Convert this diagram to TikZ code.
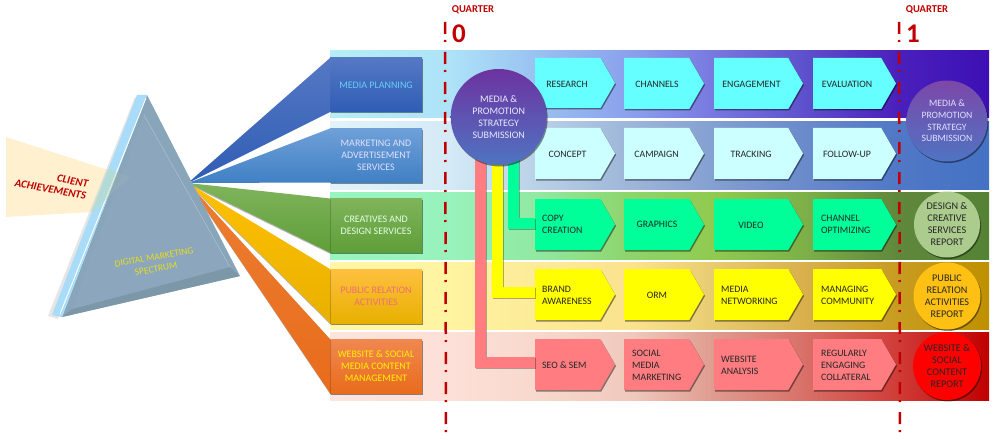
\documentclass[tikz,border=0pt]{standalone}
\usepackage{fontspec}
\setmainfont{Carlito}
\usetikzlibrary{shapes.symbols,shadows,shadings}
\definecolor{qred}{HTML}{C00000}
\definecolor{aa}{HTML}{B5EEF6}\definecolor{ab}{HTML}{AEE3F8}\definecolor{ac}{HTML}{98C0F0}\definecolor{ad}{HTML}{8A9FEC}\definecolor{ae}{HTML}{7878E0}\definecolor{af}{HTML}{5E50CC}\definecolor{ag}{HTML}{4A20BC}\definecolor{ah}{HTML}{3C10B4}
\definecolor{ba}{HTML}{E2F4F9}\definecolor{bb}{HTML}{D4EAF6}\definecolor{bc}{HTML}{B8D0E6}\definecolor{bd}{HTML}{9CB5D8}\definecolor{be}{HTML}{84A0D2}\definecolor{bf}{HTML}{6A8ACB}\definecolor{bg}{HTML}{5078C6}\definecolor{bh}{HTML}{4472C4}
\definecolor{ca}{HTML}{98F5C0}\definecolor{cb}{HTML}{98F2BC}\definecolor{cc}{HTML}{90E8A0}\definecolor{cd}{HTML}{8DD46A}\definecolor{ce}{HTML}{90CB50}\definecolor{cf}{HTML}{7CB048}\definecolor{cg}{HTML}{60883C}\definecolor{ch}{HTML}{548235}
\definecolor{da}{HTML}{FFF6A8}\definecolor{db}{HTML}{FFF4A0}\definecolor{dc}{HTML}{FCEA98}\definecolor{dd}{HTML}{FBE28E}\definecolor{de}{HTML}{E8CC70}\definecolor{df}{HTML}{D8B04C}\definecolor{dg}{HTML}{C89C20}\definecolor{dh}{HTML}{BF9000}
\definecolor{ea}{HTML}{FDE4DE}\definecolor{eb}{HTML}{FDE0D8}\definecolor{ec}{HTML}{F8D8CC}\definecolor{ed}{HTML}{F0C8BC}\definecolor{ee}{HTML}{E09C90}\definecolor{ef}{HTML}{D87068}\definecolor{eg}{HTML}{D03C38}\definecolor{eh}{HTML}{C00000}
\newcommand{\bandshade}[2]{\pgfdeclarehorizontalshading{#1}{100bp}{color(0bp)=(#2a); color(25bp)=(#2a); color(34bp)=(#2b); color(41bp)=(#2c); color(48bp)=(#2d); color(54bp)=(#2e); color(61bp)=(#2f); color(68bp)=(#2g); color(75bp)=(#2h); color(100bp)=(#2h)}}
\bandshade{bandA}{a}\bandshade{bandB}{b}\bandshade{bandC}{c}\bandshade{bandD}{d}\bandshade{bandE}{e}
\definecolor{pcyan}{HTML}{66FFFF}\definecolor{pice}{HTML}{CCFFFF}\definecolor{pgreen}{HTML}{00FF99}\definecolor{pyellow}{HTML}{FFFF00}\definecolor{ppink}{HTML}{FF7C80}
\definecolor{beam}{HTML}{FFF0D0}
\definecolor{bAt}{HTML}{5578C4}\definecolor{bAm}{HTML}{3F6BBE}\definecolor{bAb}{HTML}{2F5DB4}
\definecolor{bBt}{HTML}{6FA0D8}\definecolor{bBm}{HTML}{5291D2}\definecolor{bBb}{HTML}{4080C4}
\definecolor{bCt}{HTML}{80B45C}\definecolor{bCm}{HTML}{70AD47}\definecolor{bCb}{HTML}{5E9E38}
\definecolor{bDt}{HTML}{FFC040}\definecolor{bDm}{HTML}{FFC000}\definecolor{bDb}{HTML}{E8B000}
\definecolor{bEt}{HTML}{F08850}\definecolor{bEm}{HTML}{ED7D31}\definecolor{bEb}{HTML}{E86C1C}
\definecolor{prismL}{HTML}{A8DCF8}\definecolor{prismF}{HTML}{8CA6BE}\definecolor{prismR}{HTML}{89A5BA}\definecolor{prismB}{HTML}{7C97A8}
\definecolor{cA}{HTML}{6D33A0}\definecolor{cB}{HTML}{4F74C2}
\definecolor{overlap}{HTML}{C0D8B0}
\tikzset{
 x=1pt,y=-1pt,
 softshadow/.style={drop shadow={opacity=.45,shadow xshift=1pt,shadow yshift=-1.5pt,fill=black}},
 lbox/.style={rectangle,inner sep=0pt,outer sep=0pt,minimum width=92pt,minimum height=54pt,align=center,font=\fontsize{10}{12}\selectfont,softshadow},
 pent/.style={signal,signal to=east,signal from=nowhere,signal pointer angle=120,inner sep=0pt,outer sep=0pt,minimum height=51pt,anchor=west,softshadow},
 ptext/.style={align=left,inner sep=0pt,text=black!85,font=\fontsize{9.8}{12}\selectfont},
 ctext/.style={align=center,inner sep=0pt,text=black!85,font=\fontsize{9.8}{12}\selectfont},
 disc/.style={circle,inner sep=0pt,outer sep=0pt,align=center,softshadow},
 qline/.style={draw=qred,line width=2.5pt,dash pattern=on 12pt off 6pt on 2pt off 10pt},
 qlabel/.style={text=qred,inner sep=0pt,font=\fontsize{10.5}{12}\selectfont\bfseries},
 qnum/.style={text=qred,inner sep=0pt,font=\fontsize{27}{27}\selectfont\bfseries},
 link/.style={line width=11pt,line join=miter,line cap=butt},
 linkshadow/.style={line width=11pt,line join=miter,draw=black,opacity=.3,transform canvas={shift={(1pt,-1pt)}}},
}
\begin{document}
\begin{tikzpicture}
\useasboundingbox (0,0) rectangle (993,441);
% bands
\shade[shading=bandA] (330,51) rectangle (989,118);
\shade[shading=bandB] (330,122) rectangle (989,189);
\shade[shading=bandC] (330,192) rectangle (989,259);
\shade[shading=bandD] (330,262) rectangle (989,329);
\shade[shading=bandE] (330,332) rectangle (989,400);
% client beam
\fill[beam] (6,137) -- (108,170) -- (130,178) -- (93,212) -- (6,217) -- cycle;
% left boxes
\node[lbox,top color=bAt,middle color=bAm,bottom color=bAb,text=cyan!60!white] (b1) at (376,85) {MEDIA PLANNING};
\node[lbox,top color=bBt,middle color=bBm,bottom color=bBb,text=white!88!blue] (b2) at (376,155.5) {MARKETING AND\\ADVERTISEMENT\\SERVICES};
\node[lbox,top color=bCt,middle color=bCm,bottom color=bCb,text=white!90!green] (b3) at (376,225.5) {CREATIVES AND\\DESIGN SERVICES};
\node[lbox,top color=bDt,middle color=bDm,bottom color=bDb,text={rgb,255:red,236;green,110;blue,120}] (b4) at (376,296) {PUBLIC RELATION\\ACTIVITIES};
\node[lbox,top color=bEt,middle color=bEm,bottom color=bEb,text=yellow] (b5) at (376,366) {WEBSITE \& SOCIAL\\MEDIA CONTENT\\MANAGEMENT};
% rays
\coordinate (apex) at (188,183);
\fill[black,opacity=.3,transform canvas={shift={(0.5pt,-1.5pt)}}] (apex) -- (b5.north west) -- (b5.south west) -- cycle;
\fill[black,opacity=.3,transform canvas={shift={(0.5pt,-1.5pt)}}] (apex) -- (b4.north west) -- (b4.south west) -- cycle;
\fill[black,opacity=.3,transform canvas={shift={(0.5pt,-1.5pt)}}] (apex) -- (b3.north west) -- (b3.south west) -- cycle;
\shade[top color=bAt,bottom color=bAb] (apex) -- (b1.north west) -- (b1.south west) -- cycle;
\shade[top color=bBt,bottom color=bBb] (apex) -- (b2.north west) -- (b2.south west) -- cycle;
\shade[top color=bCt,bottom color=bCb] (apex) -- (b3.north west) -- (b3.south west) -- cycle;
\shade[top color=bDm,bottom color=bDb] (apex) -- (b4.north west) -- (b4.south west) -- cycle;
\shade[top color=bEm,bottom color=bEb] (apex) -- (b5.north west) -- (b5.south west) -- cycle;
% prism
\fill[black!10] (135,97) -- (48,316) -- (58,319) -- (142,100) -- cycle;
\fill[prismR] (147,95) -- (240,276) -- (62,317) -- cycle;
\fill[prismB] (240,276) -- (62,317) -- (72,309) -- (230,267) -- cycle;
\fill[prismF] (144,115) -- (230,267) -- (72,309) -- cycle;
\draw[white,opacity=.3,line width=.5pt] (144,115) -- (230,267);
\fill[prismL] (137,95) -- (147,95) -- (62,317) -- (52,315) -- cycle;
\draw[white,line width=.9pt] (146,98) -- (60,314);
\fill[overlap,opacity=.45] (107,169) -- (117.3,172.6) -- (107.5,198.2) -- (94,211) -- (90,212) -- cycle;
\fill[overlap,opacity=.1] (117.3,172.6) -- (130,177) -- (107.5,198.2) -- cycle;
\node[inner sep=0pt,align=right,rotate=-10,text=qred,font=\fontsize{11}{12}\selectfont\bfseries\itshape] (client) at (51.5,183.5) {CLIENT\\ACHIEVEMENTS};
\node[inner sep=0pt,align=center,rotate=10,text=yellow!90!black,font=\fontsize{9.5}{12}\selectfont] (spectrum) at (155,263) {DIGITAL MARKETING\\SPECTRUM};
% quarter lines
\coordinate (q0a) at (445,22);\coordinate (q0b) at (446,438);
\coordinate (q1a) at (899,22);\coordinate (q1b) at (900,438);
\draw[qline] (q0a) -- (q0b);
\coordinate (c0pos) at (498.7,117);
% pentagons
\node[pent,fill=pcyan,minimum width=80pt,minimum height=50pt] (p11) at (535,83) {};
\node[pent,fill=pcyan,minimum width=80pt] (p12) at (624,83.5) {};
\node[pent,fill=pcyan,minimum width=89pt] (p13) at (714,83.5) {};
\node[pent,fill=pcyan,minimum width=83pt] (p14) at (813,83.5) {};
\node[pent,fill=pice,minimum width=80pt] (p21) at (535,153.5) {};
\node[pent,fill=pice,minimum width=80pt] (p22) at (624,153.5) {};
\node[pent,fill=pice,minimum width=89pt] (p23) at (714,153.5) {};
\node[pent,fill=pice,minimum width=83pt] (p24) at (813,153.5) {};
\node[pent,fill=pgreen,minimum width=80pt] (p31) at (535,224.5) {};
\node[pent,fill=pgreen,minimum width=80pt] (p32) at (624,224.5) {};
\node[pent,fill=pgreen,minimum width=89pt] (p33) at (714,224.5) {};
\node[pent,fill=pgreen,minimum width=83pt] (p34) at (813,224.5) {};
\node[pent,fill=pyellow,minimum width=80pt] (p41) at (535,294.5) {};
\node[pent,fill=pyellow,minimum width=80pt] (p42) at (624,294.5) {};
\node[pent,fill=pyellow,minimum width=89pt] (p43) at (714,294.5) {};
\node[pent,fill=pyellow,minimum width=83pt] (p44) at (813,294.5) {};
\node[pent,fill=ppink,minimum width=80pt] (p51) at (535,364.5) {};
\node[pent,fill=ppink,minimum width=80pt] (p52) at (624,364.5) {};
\node[pent,fill=ppink,minimum width=89pt] (p53) at (714,364.5) {};
\node[pent,fill=ppink,minimum width=83pt] (p54) at (813,364.5) {};
% connectors
\draw[linkshadow] ([xshift=-18pt]c0pos) |- ([yshift=2pt]p51.west);
\draw[linkshadow] ([xshift=-1pt]c0pos) |- ([yshift=2pt]p41.west);
\draw[linkshadow] ([xshift=14.5pt]c0pos) |- ([yshift=1.5pt]p31.west);
\draw[link,ppink] ([xshift=-18pt]c0pos) |- ([yshift=2pt]p51.west);
\draw[link,pyellow] ([xshift=-1pt]c0pos) |- ([yshift=2pt]p41.west);
\draw[link,pgreen] ([xshift=14.5pt]c0pos) |- ([yshift=1.5pt]p31.west);
% pentagon text
\node[ctext] (t11) at (567,84) {RESEARCH};
\node[ctext] (t12) at (657,84) {CHANNELS};
\node[ctext] (t13) at (751.5,84) {ENGAGEMENT};
\node[ctext] (t14) at (847,84) {EVALUATION};
\node[ctext] (t21) at (567.5,154) {CONCEPT};
\node[ctext] (t22) at (656.5,154) {CAMPAIGN};
\node[ctext] (t23) at (751,154) {TRACKING};
\node[ctext] (t24) at (847,154) {FOLLOW-UP};
\node[ptext,anchor=west] (t31) at (542,224.5) {COPY\\CREATION};
\node[ctext] (t32) at (657,224.5) {GRAPHICS};
\node[ctext] (t33) at (751,225) {VIDEO};
\node[ptext,anchor=west] (t34) at (821,224.5) {CHANNEL\\OPTIMIZING};
\node[ptext,anchor=west] (t41) at (542,295) {BRAND\\AWARENESS};
\node[ctext] (t42) at (657,295) {ORM};
\node[ptext,anchor=west] (t43) at (721,295) {MEDIA\\NETWORKING};
\node[ptext,anchor=west] (t44) at (821,295) {MANAGING\\COMMUNITY};
\node[ptext,anchor=west] (t51) at (542,365) {SEO \& SEM};
\node[ptext,anchor=west] (t52) at (632,365) {SOCIAL\\MEDIA\\MARKETING};
\node[ptext,anchor=west] (t53) at (721,365) {WEBSITE\\ANALYSIS};
\node[ptext,anchor=west] (t54) at (821,365) {REGULARLY\\ENGAGING\\COLLATERAL};
% circles
\node[disc,minimum size=96pt,top color=cA,bottom color=cB,text=white!92!blue,font=\fontsize{10}{12}\selectfont] (c0) at (c0pos) {MEDIA \&\\PROMOTION\\STRATEGY\\SUBMISSION};
\draw[qline] (q1a) -- (q1b);
\node[disc,minimum size=81pt,top color=cA!90!white,bottom color=cB,text=white!88!blue,font=\fontsize{9.7}{11.6}\selectfont] (c1) at (947,121) {MEDIA \&\\PROMOTION\\STRATEGY\\SUBMISSION};
\node[disc,minimum size=66pt,fill={rgb,255:red,172;green,204;blue,142},text=black!85,font=\fontsize{10.2}{12}\selectfont] (c2) at (947,224.5) {DESIGN \&\\CREATIVE\\SERVICES\\REPORT};
\node[disc,minimum size=67pt,fill={rgb,255:red,255;green,192;blue,20},text=black!85,font=\fontsize{10.2}{12}\selectfont] (c3) at (947,296) {PUBLIC\\RELATION\\ACTIVITIES\\REPORT};
\node[disc,minimum size=68pt,fill={rgb,255:red,255;green,0;blue,0},text=black!85,font=\fontsize{10.2}{12}\selectfont] (c4) at (947,366) {WEBSITE \&\\SOCIAL\\CONTENT\\REPORT};
% quarter labels
\node[qlabel] (ql0) at (473,10) {QUARTER};
\node[qlabel] (ql1) at (927,10) {QUARTER};
\node[qnum] (qn0) at (459,34) {0};
\node[qnum] (qn1) at (913,34) {1};
\end{tikzpicture}
\end{document}
